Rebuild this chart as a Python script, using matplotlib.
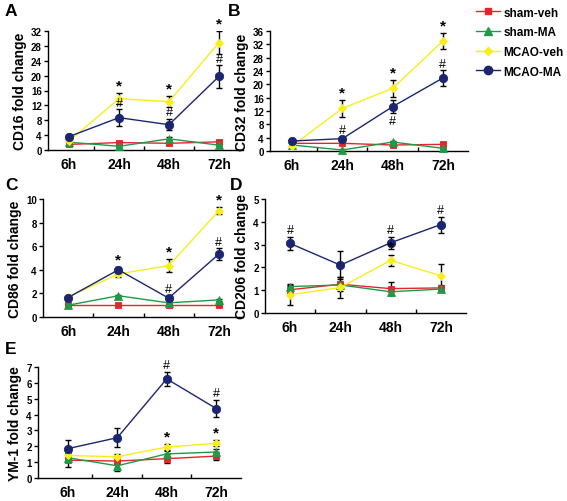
import matplotlib
matplotlib.use("Agg")
import matplotlib.pyplot as plt
from matplotlib.lines import Line2D
import numpy as np

plt.rcParams['font.family'] = ['Liberation Sans', 'DejaVu Sans']
plt.rcParams['font.weight'] = 'bold'

times = ["6h", "24h", "48h", "72h"]
groups = ["sham-veh", "sham-MA", "MCAO-veh", "MCAO-MA"]

# Panel A: CD16
cd16_sham_veh = [1.5, 2.0, 1.8, 2.2]
cd16_sham_ma = [2.1, 1.0, 3.0, 1.3]
cd16_mcao_veh = [2.4, 13.8, 13.0, 28.9]
cd16_mcao_ma = [3.6, 8.7, 6.8, 19.8]
cd16_err_sham_veh = [0.3, 0.4, 0.4, 0.4]
cd16_err_sham_ma = [0.3, 0.3, 0.5, 0.3]
cd16_err_mcao_veh = [0.5, 1.5, 1.5, 3.0]
cd16_err_mcao_ma = [0.6, 2.2, 1.5, 3.0]

# Panel B: CD32
cd32_sham_veh = [2.3, 2.3, 1.8, 2.0]
cd32_sham_ma = [1.8, 0.3, 2.7, 0.8]
cd32_mcao_veh = [1.5, 12.8, 18.8, 33.0]
cd32_mcao_ma = [3.0, 3.7, 13.3, 21.9]
cd32_err_sham_veh = [0.3, 0.4, 0.3, 0.4]
cd32_err_sham_ma = [0.3, 0.2, 0.4, 0.2]
cd32_err_mcao_veh = [0.4, 2.6, 2.5, 2.5]
cd32_err_mcao_ma = [0.4, 0.5, 2.0, 2.3]

# Panel C: CD86
cd86_sham_veh = [1.0, 1.0, 1.0, 1.0]
cd86_sham_ma = [1.0, 1.8, 1.2, 1.45]
cd86_mcao_veh = [1.7, 3.65, 4.35, 9.0]
cd86_mcao_ma = [1.65, 4.0, 1.6, 5.33]
cd86_err_sham_veh = [0.05, 0.05, 0.05, 0.05]
cd86_err_sham_ma = [0.1, 0.1, 0.1, 0.1]
cd86_err_mcao_veh = [0.1, 0.3, 0.55, 0.3]
cd86_err_mcao_ma = [0.1, 0.2, 0.2, 0.5]

# Panel D: CD206
cd206_sham_veh = [1.02, 1.26, 1.07, 1.1]
cd206_sham_ma = [1.16, 1.23, 0.93, 1.05]
cd206_mcao_veh = [0.8, 1.12, 2.31, 1.63]
cd206_mcao_ma = [3.05, 2.1, 3.08, 3.88]
cd206_err_sham_veh = [0.15, 0.3, 0.3, 0.15]
cd206_err_sham_ma = [0.1, 0.1, 0.15, 0.1]
cd206_err_mcao_veh = [0.45, 0.45, 0.25, 0.5]
cd206_err_mcao_ma = [0.3, 0.6, 0.27, 0.35]

# Panel E: YM-1
ym1_sham_veh = [1.12, 1.07, 1.22, 1.38]
ym1_sham_ma = [1.28, 0.77, 1.52, 1.64]
ym1_mcao_veh = [1.42, 1.34, 1.95, 2.19]
ym1_mcao_ma = [1.85, 2.54, 6.25, 4.38]
ym1_err_sham_veh = [0.45, 0.2, 0.3, 0.25]
ym1_err_sham_ma = [0.2, 0.3, 0.2, 0.2]
ym1_err_mcao_veh = [0.15, 0.15, 0.2, 0.2]
ym1_err_mcao_ma = [0.55, 0.6, 0.45, 0.55]

# significance marks: (time index, symbol, group index, above?)
marks_a = [(1, "*", 2, True), (1, "#", 3, True), (2, "*", 2, True), (2, "#", 3, True),
           (3, "*", 2, True), (3, "#", 3, True)]
marks_b = [(1, "*", 2, True), (1, "#", 3, True), (2, "*", 2, True), (2, "#", 3, False),
           (3, "*", 2, True), (3, "#", 3, True)]
marks_c = [(1, "*", 3, True), (2, "*", 2, True), (2, "#", 3, True),
           (3, "*", 2, True), (3, "#", 3, True)]
marks_d = [(0, "#", 3, True), (2, "*", 2, True), (2, "#", 3, True), (3, "#", 3, True)]
marks_e = [(2, "#", 3, True), (2, "*", 2, True), (3, "#", 3, True), (3, "*", 2, True)]

colors = ["#e8242a", "#1e9b48", "#f7ee1a", "#1c2670"]
markers = ["s", "^", "D", "o"]
msizes = [4.5, 5.5, 4.5, 6.0]

W, H = 567, 502
fig = plt.figure(figsize=(W / 100, H / 100), dpi=100)


def px_axes(left, right, top, bottom):
    return fig.add_axes([left / W, 1 - bottom / H, (right - left) / W, (bottom - top) / H])


panels = [
    dict(box=(48, 243, 32, 151), xlim=(-0.42, 3.48), ylim=(0, 32), yt=np.arange(0, 33, 4),
         label="CD16 fold change", letter="A", lxy=(5, 12),
         vals=[cd16_sham_veh, cd16_sham_ma, cd16_mcao_veh, cd16_mcao_ma],
         errs=[cd16_err_sham_veh, cd16_err_sham_ma, cd16_err_mcao_veh, cd16_err_mcao_ma],
         marks=marks_a),
    dict(box=(270, 468, 32, 152), xlim=(-0.44, 3.5), ylim=(0, 36), yt=np.arange(0, 37, 4),
         label="CD32 fold change", letter="B", lxy=(228, 12),
         vals=[cd32_sham_veh, cd32_sham_ma, cd32_mcao_veh, cd32_mcao_ma],
         errs=[cd32_err_sham_veh, cd32_err_sham_ma, cd32_err_mcao_veh, cd32_err_mcao_ma],
         marks=marks_b),
    dict(box=(43, 243, 200, 318), xlim=(-0.5, 3.48), ylim=(0, 10), yt=np.arange(0, 11, 2),
         label="CD86 fold change", letter="C", lxy=(5, 185),
         vals=[cd86_sham_veh, cd86_sham_ma, cd86_mcao_veh, cd86_mcao_ma],
         errs=[cd86_err_sham_veh, cd86_err_sham_ma, cd86_err_mcao_veh, cd86_err_mcao_ma],
         marks=marks_c),
    dict(box=(265, 466, 200, 314), xlim=(-0.5, 3.5), ylim=(0, 5), yt=np.arange(0, 6, 1),
         label="CD206 fold change", letter="D", lxy=(230, 185),
         vals=[cd206_sham_veh, cd206_sham_ma, cd206_mcao_veh, cd206_mcao_ma],
         errs=[cd206_err_sham_veh, cd206_err_sham_ma, cd206_err_mcao_veh, cd206_err_mcao_ma],
         marks=marks_d),
    dict(box=(38, 241, 368, 479), xlim=(-0.6, 3.5), ylim=(0, 7), yt=np.arange(0, 8, 1),
         label="YM-1 fold change", letter="E", lxy=(5, 349),
         vals=[ym1_sham_veh, ym1_sham_ma, ym1_mcao_veh, ym1_mcao_ma],
         errs=[ym1_err_sham_veh, ym1_err_sham_ma, ym1_err_mcao_veh, ym1_err_mcao_ma],
         marks=marks_e),
]

x = np.arange(len(times))
for p in panels:
    ax = px_axes(*p["box"])
    for gi in range(4):
        ax.errorbar(x, p["vals"][gi], yerr=p["errs"][gi], fmt="none", ecolor="black",
                    elinewidth=1.0, capsize=2.5, capthick=1.0, zorder=2)
    for gi in range(4):
        ax.plot(x, p["vals"][gi], color=colors[gi], marker=markers[gi], markersize=msizes[gi],
                linewidth=1.0, markeredgewidth=0.6, markeredgecolor=colors[gi], zorder=3 + gi,
                clip_on=False)
    for (ti, sym, gi, above) in p["marks"]:
        v = p["vals"][gi][ti]
        e = p["errs"][gi][ti]
        if above:
            ax.annotate(sym, (x[ti], v + e), xytext=(0, 0.5), textcoords="offset points",
                        ha="center", va="bottom", fontsize=11 if sym == "*" else 9,
                        fontweight="normal" if sym == "#" else "bold", zorder=10)
        else:
            ax.annotate(sym, (x[ti], v - e), xytext=(0, -1), textcoords="offset points",
                        ha="center", va="top", fontsize=9, fontweight="normal", zorder=10)
    ax.set_xlim(*p["xlim"])
    ax.set_ylim(*p["ylim"])
    ax.set_yticks(p["yt"])
    ax.set_yticklabels([str(int(t)) for t in p["yt"]], fontsize=7, fontweight="bold")
    ax.set_xticks(x)
    ax.set_xticklabels(times, fontsize=10, fontweight="bold")
    ax.set_xticks(x[:-1] + 0.5, minor=True)
    ax.tick_params(axis="x", which="major", length=0, pad=5)
    ax.tick_params(axis="x", which="minor", direction="in", length=3, width=1)
    ax.tick_params(axis="y", direction="out", length=3, width=1, pad=1.5)
    for s in ["top", "right"]:
        ax.spines[s].set_visible(False)
    for s in ["left", "bottom"]:
        ax.spines[s].set_linewidth(1.0)
    ax.set_ylabel(p["label"], fontsize=10, fontweight="bold", labelpad=3)
    lx, ly = p["lxy"]
    fig.text(lx / W, 1 - ly / H, p["letter"], fontsize=12.5,
             fontweight="bold", ha="left", va="center")

handles = [Line2D([0], [0], color=colors[i], marker=markers[i], markersize=msizes[i],
                  linewidth=1.0) for i in range(4)]
fig.legend(handles, groups, loc="upper left", bbox_to_anchor=(472 / W, 1 - 4 / H),
           frameon=False, handlelength=2.1, handletextpad=0.25, borderaxespad=0,
           labelspacing=0.65, borderpad=0.3, prop={"weight": "bold", "size": 8.5})

fig.savefig("out.png", dpi=100)
